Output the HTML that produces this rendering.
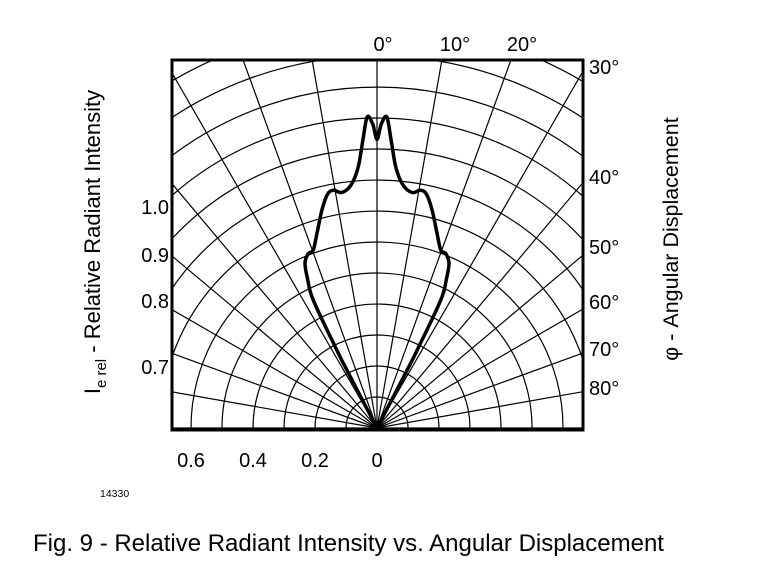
<!DOCTYPE html>
<html><head><meta charset="utf-8"><style>
body{margin:0;background:#fff;}
svg text{font-family:"Liberation Sans",Arial,sans-serif;fill:#000;}
</style></head><body>
<svg width="770" height="568" viewBox="0 0 770 568">
<defs><clipPath id="box"><rect x="172" y="60" width="411" height="370"/></clipPath></defs>
<g id="grid" clip-path="url(#box)"></g>
<path id="curve" fill="none" stroke="#000" stroke-width="3.5" stroke-linejoin="round" clip-path="url(#box)"/>
<rect x="172" y="60" width="411" height="370" fill="none" stroke="#000" stroke-width="3"/>
<g font-size="20">
<text x="383" y="51" text-anchor="middle">0°</text>
<text x="455" y="51" text-anchor="middle">10°</text>
<text x="522" y="51" text-anchor="middle">20°</text>
</g>
<g font-size="20">
<text x="589" y="74">30°</text><text x="589" y="184">40°</text><text x="589" y="254">50°</text>
<text x="589" y="309">60°</text><text x="589" y="356">70°</text><text x="589" y="395">80°</text>
</g>
<g font-size="20" text-anchor="end">
<text x="169" y="214">1.0</text><text x="169" y="262">0.9</text><text x="169" y="308">0.8</text><text x="169" y="374">0.7</text>
</g>
<g font-size="20" text-anchor="middle">
<text x="191" y="467">0.6</text><text x="253" y="467">0.4</text><text x="315" y="467">0.2</text><text x="377" y="467">0</text>
</g>
<text x="0" y="0" font-size="22" transform="translate(100,242) rotate(-90)" text-anchor="middle">I<tspan font-size="15" dy="6">e rel</tspan><tspan dy="-6"> - Relative Radiant Intensity</tspan></text>
<text x="0" y="0" font-size="21.5" transform="translate(678,239) rotate(-90)" text-anchor="middle">φ - Angular Displacement</text>
<text x="100" y="497" font-size="10.5">14330</text>
<text x="33" y="551" font-size="24">Fig. 9 - Relative Radiant Intensity vs. Angular Displacement</text>
</svg>
<script>
const angles = [-28,-27.5,-27.3,-26.5,-25,-23.6,-21.5,-19.7,-17,-14.2,-12,-10.4,-8.5,-6,-4.1,-2.8,-1.8,-0.8,0,0.8,1.8,2.8,4.1,6,8.5,10.4,12,14.2,17,19.7,21.5,23.6,25,26.5,27.3,27.5,28];
const intensity = [0,0.2,0.28,0.46,0.53,0.58,0.605,0.61,0.66,0.725,0.77,0.78,0.768,0.79,0.845,0.93,1.004,0.98,0.931,0.98,1.004,0.93,0.845,0.79,0.768,0.78,0.77,0.725,0.66,0.61,0.605,0.58,0.53,0.46,0.28,0.2,0];
const ringSteps = [0.1,0.2,0.3,0.4,0.5,0.6,0.7,0.8,0.9,1.0,1.1,1.2,1.3,1.4];
const spokeAngles = [-90,-80,-70,-60,-50,-40,-30,-20,-10,0,10,20,30,40,50,60,70,80,90];
const ox=377, oy=428, scale=310;
function px(a,r){return ox+Math.sin(a*Math.PI/180)*r*scale;}
function py(a,r){return oy-Math.cos(a*Math.PI/180)*r*scale;}
const NS="http://www.w3.org/2000/svg";
const g=document.getElementById('grid');
ringSteps.forEach(r=>{
  const c=document.createElementNS(NS,'path');
  const R=r*scale;
  c.setAttribute('d',`M${ox-R},${oy} A${R},${R} 0 0 1 ${ox+R},${oy}`);
  c.setAttribute('fill','none');c.setAttribute('stroke','#000');c.setAttribute('stroke-width','1.2');
  
  
  g.appendChild(c);
});
spokeAngles.forEach(a=>{
  const l=document.createElementNS(NS,'line');
  l.setAttribute('x1',ox);l.setAttribute('y1',oy);
  l.setAttribute('x2',px(a,2));l.setAttribute('y2',py(a,2));
  l.setAttribute('stroke','#000');l.setAttribute('stroke-width','1.2');
  
  
  g.appendChild(l);
});
const pts=angles.map((a,i)=>[px(a,intensity[i]),py(a,intensity[i])]);
let d='M'+pts[0][0].toFixed(1)+','+pts[0][1].toFixed(1);
for(let i=0;i<pts.length-1;i++){
  const p0=pts[Math.max(i-1,0)],p1=pts[i],p2=pts[i+1],p3=pts[Math.min(i+2,pts.length-1)];
  const c1=[p1[0]+(p2[0]-p0[0])/6,p1[1]+(p2[1]-p0[1])/6];
  const c2=[p2[0]-(p3[0]-p1[0])/6,p2[1]-(p3[1]-p1[1])/6];
  d+=`C${c1[0].toFixed(1)},${c1[1].toFixed(1)} ${c2[0].toFixed(1)},${c2[1].toFixed(1)} ${p2[0].toFixed(1)},${p2[1].toFixed(1)}`;
}
document.getElementById('curve').setAttribute('d',d);
</script>
</body></html>
